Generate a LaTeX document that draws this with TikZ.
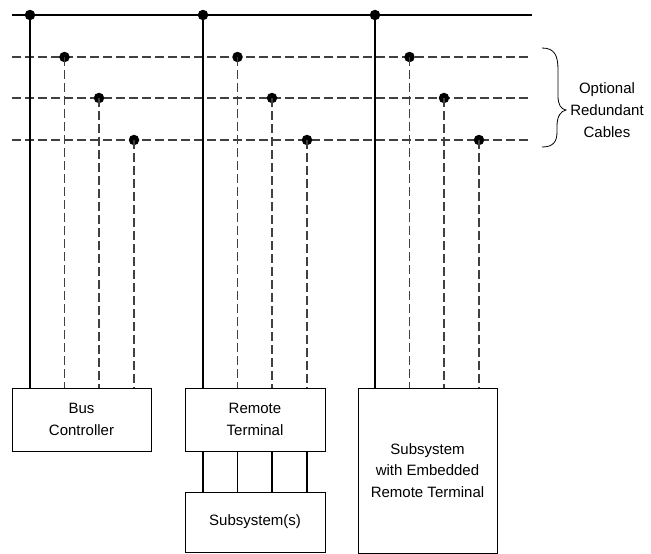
\documentclass[tikz,border=0pt]{standalone}
\usepackage{fontspec}
\setmainfont{Liberation Sans}
\usepackage{tikz}

\begin{document}
\begin{tikzpicture}[x=1pt, y=-1pt,
		font=\fontsize{15}{21.5}\selectfont,
		box/.style={draw, line width=0.9pt, align=center, inner sep=0pt},
		mainbus/.style={line width=1.5pt},
		sparebus/.style={line width=1.1pt, black!75, dash pattern=on 9pt off 4pt},
		tap/.style={circle, fill, inner sep=0pt, minimum size=10.5pt}]
		\useasboundingbox (0,0) rectangle (651,554);

		% units
		\node[box, minimum width=139pt, minimum height=63pt] (bc) at (81.5,419.5) {Bus\\Controller};
		\node[box, minimum width=140pt, minimum height=63pt] (rt) at (255,419.5) {Remote\\Terminal};
		\node[box, minimum width=140pt, minimum height=60pt] (sub) at (255,522) {Subsystem(s)};
		\node[box, minimum width=139pt, minimum height=165pt] (emb) at (427.5,470.5) {Subsystem\\with Embedded\\Remote Terminal};

		% cables
		\coordinate (busL0) at (12,15);
		\coordinate (busR0) at (532,15);
		\draw[mainbus] (busL0) -- (busR0);
		\foreach \b/\y in {1/57, 2/98, 3/140} {
			\coordinate (busL\b) at (12,\y);
			\coordinate (busR\b) at (528,\y);
			\draw[sparebus] (busL\b) -- (busR\b);
		}

		% taps
		\foreach \u/\x/\unit in {1/30/bc, 2/203/rt, 3/375/emb} {
			\foreach \b/\dx/\y in {0/0/15, 1/34.5/57, 2/69/98, 3/104/140} {
				\node[tap] (t\u\b) at (\x+\dx,\y) {};
			}
			\draw[line width=1.2pt] (t\u0.center) -- (t\u0 |- \unit.north);
			\foreach \b in {1,2,3}
				\draw[sparebus] (t\u\b.center) -- (t\u\b |- \unit.north);
		}

		% remote terminal to subsystem
		\foreach \b in {0,1,2,3}
			\draw[line width=1.2pt] (rt.south -| t2\b) -- (sub.north -| t2\b);

		% brace
		\coordinate (brtop) at (542,48);
		\coordinate (brtip) at (566,110);
		\coordinate (brbot) at (542,147);
		\draw[line width=0.8pt] (brtop) .. controls (555,48) and (558,56) .. (558,70)
			-- (558,96) .. controls (558,105) and (561,109) .. (brtip)
			.. controls (561,111) and (557,116) .. (557,126)
			-- (557,132) .. controls (557,142) and (553,147) .. (brbot);
		\node[align=center, font=\fontsize{15}{22}\selectfont] (lbl) at (607,110) {Optional\\Redundant\\Cables};
	\end{tikzpicture}
\end{document}
